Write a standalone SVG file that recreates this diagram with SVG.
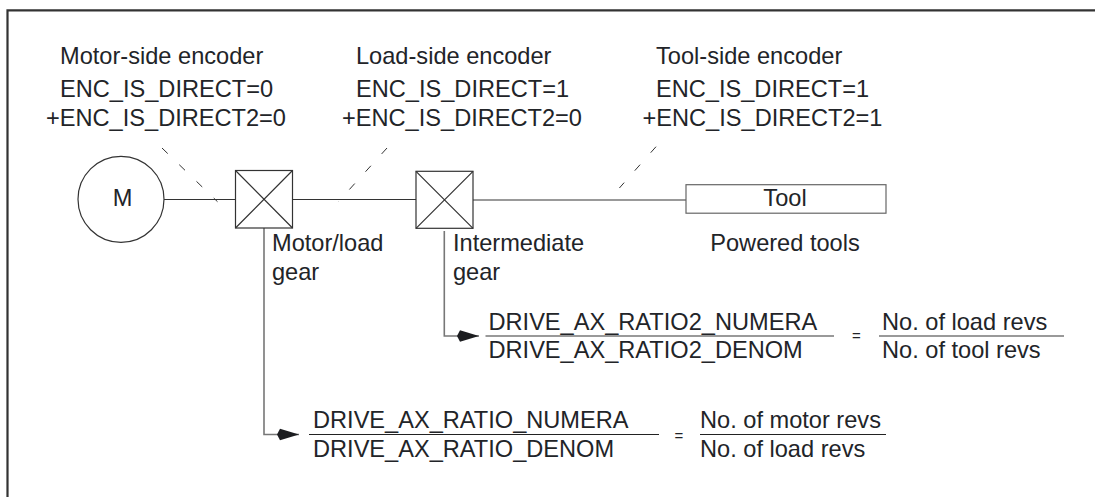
<svg xmlns="http://www.w3.org/2000/svg" width="1095" height="497" viewBox="0 0 1095 497">
<style>
text{font-family:"Liberation Sans",Arial,sans-serif;font-size:23.6px;fill:#222428}
.m{text-anchor:middle}
.s{font-size:15px}
.l{fill:none;stroke:#333;stroke-width:1.2}
.g{fill:none;stroke:#777;stroke-width:1.6}
.d{fill:none;stroke:#333;stroke-width:1;stroke-dasharray:8 16}
.f{fill:none;stroke:#222;stroke-width:1.2}
.x{fill:#fff;stroke:#333;stroke-width:1.2}
</style>
<defs><marker id="a" markerUnits="userSpaceOnUse" markerWidth="24" markerHeight="14" refX="22" refY="7" orient="auto"><path d="M0 7L3 1.200L22 7L3 12.800Z" fill="#1c1d20"/></marker></defs>
<rect width="1095" height="497" fill="#fff"/>
<path id="frame" d="M7.500 497V10.300H1095" fill="none" stroke="#333" stroke-width="2.200"/>
<g id="connectors">
<path class="l" d="M164 199.500H235"/>
<path class="l" d="M292 199.500H416"/>
<path class="g" d="M473 200H686"/>
<path class="d" d="M162 148L217.500 201.700"/>
<path class="d" d="M387 148L338.500 201.500"/>
<path class="d" d="M656 146.700L619.400 188"/>
<path class="g" d="M264 228V434.500H299" marker-end="url(#a)"/>
<path class="g" d="M444.300 231V336H479" marker-end="url(#a)"/>
</g>
<g id="motor"><circle class="x" cx="121" cy="199.300" r="43"/><text class="m" x="122.500" y="206">M</text></g>
<g id="gear1"><rect class="x" x="235.500" y="170.500" width="57" height="57.500"/><path class="l" d="M235.500 170.500L292.500 228M292.500 170.500L235.500 228"/><text x="272" y="250.500">Motor/load</text><text x="272" y="279.500">gear</text></g>
<g id="gear2"><rect class="x" x="416" y="171.300" width="57" height="57"/><path class="l" d="M416 171.300L473 228.300M473 171.300L416 228.300"/><text x="453" y="250.500">Intermediate</text><text x="453" y="279.500">gear</text></g>
<g id="tool"><rect x="686" y="184.700" width="200" height="28.500" class="x" style="stroke:#666"/><text class="m" x="785" y="206">Tool</text><text class="m" x="785" y="250.500">Powered tools</text></g>
<g id="enc1"><text x="60" y="64">Motor-side encoder</text><text x="60" y="97">ENC_IS_DIRECT=0</text><text x="46" y="126">+ENC_IS_DIRECT2=0</text></g>
<g id="enc2"><text x="356" y="64">Load-side encoder</text><text x="356" y="97">ENC_IS_DIRECT=1</text><text x="342" y="126">+ENC_IS_DIRECT2=0</text></g>
<g id="enc3"><text x="656" y="64">Tool-side encoder</text><text x="656" y="97">ENC_IS_DIRECT=1</text><text x="642.500" y="126">+ENC_IS_DIRECT2=1</text></g>
<g id="ratio2"><text x="488.500" y="329.500">DRIVE_AX_RATIO2_NUMERA</text><path class="g" d="M485.500 336H834"/><text x="488.500" y="358">DRIVE_AX_RATIO2_DENOM</text><text class="m s" x="856.500" y="341">=</text><text x="882" y="329.500">No. of load revs</text><path class="g" d="M879 336H1064"/><text x="882" y="358">No. of tool revs</text></g>
<g id="ratio1"><text x="313" y="428">DRIVE_AX_RATIO_NUMERA</text><path class="f" d="M309 434.500H659"/><text x="313" y="457">DRIVE_AX_RATIO_DENOM</text><text class="m s" x="679" y="441">=</text><text x="700" y="428">No. of motor revs</text><path class="f" d="M700 434.500H886"/><text x="700" y="457">No. of load revs</text></g>
</svg>
